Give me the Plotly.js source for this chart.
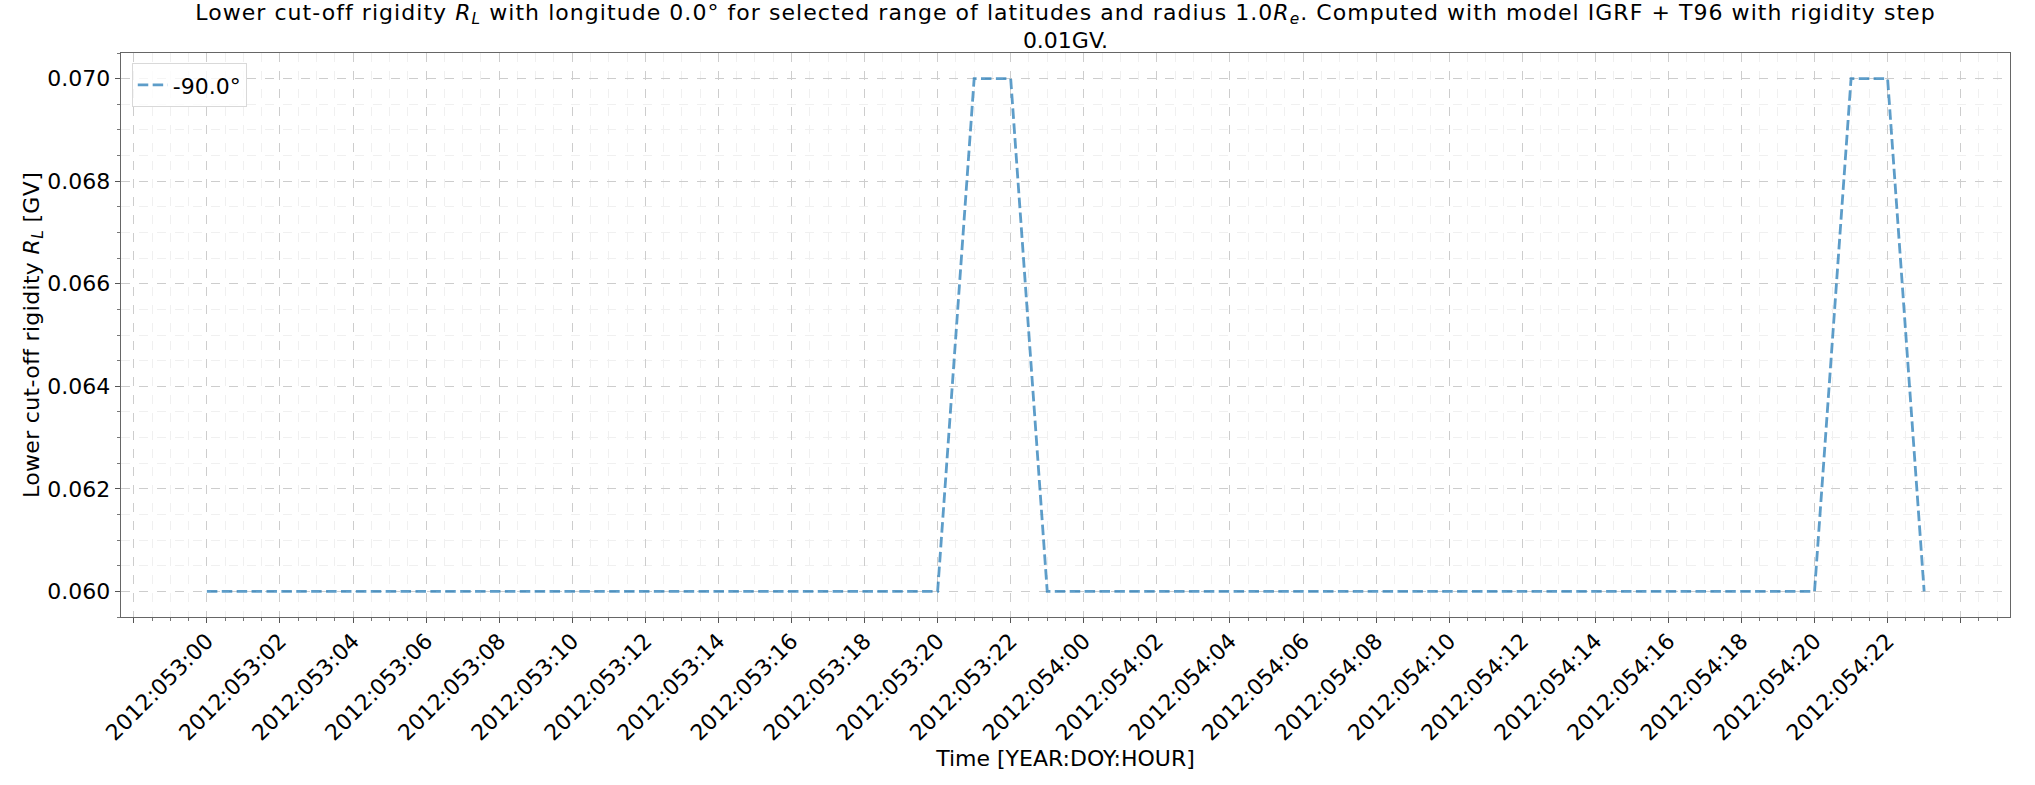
<!DOCTYPE html>
<html>
<head>
<meta charset="utf-8">
<script src="https://cdn.plot.ly/plotly-3.0.1.min.js"></script>
<style>html,body{margin:0;padding:0;background:#fff;}#chart{width:2035px;height:785px;}</style>
</head>
<body>
<div id="chart"></div>
<script>
// Time stamps (YEAR:DOY:HOUR)
const times = [
  '2012:053:00','2012:053:01','2012:053:02','2012:053:03','2012:053:04','2012:053:05',
  '2012:053:06','2012:053:07','2012:053:08','2012:053:09','2012:053:10','2012:053:11',
  '2012:053:12','2012:053:13','2012:053:14','2012:053:15','2012:053:16','2012:053:17',
  '2012:053:18','2012:053:19','2012:053:20','2012:053:21','2012:053:22','2012:053:23',
  '2012:054:00','2012:054:01','2012:054:02','2012:054:03','2012:054:04','2012:054:05',
  '2012:054:06','2012:054:07','2012:054:08','2012:054:09','2012:054:10','2012:054:11',
  '2012:054:12','2012:054:13','2012:054:14','2012:054:15','2012:054:16','2012:054:17',
  '2012:054:18','2012:054:19','2012:054:20','2012:054:21','2012:054:22','2012:054:23'
];
// Lower cut-off rigidity at latitude -90.0 deg [GV]
const rigidityLat_m90 = [
  0.06,0.06,0.06,0.06,0.06,0.06,0.06,0.06,0.06,0.06,0.06,0.06,
  0.06,0.06,0.06,0.06,0.06,0.06,0.06,0.06,0.06,0.07,0.07,0.06,
  0.06,0.06,0.06,0.06,0.06,0.06,0.06,0.06,0.06,0.06,0.06,0.06,
  0.06,0.06,0.06,0.06,0.06,0.06,0.06,0.06,0.06,0.07,0.07,0.06
];
const seriesName = '-90.0°';
// Tick positions and labels (ticks at 052:22 and 055:00 carry no label)
const tickTimes = [
  '2012:052:22','2012:053:00','2012:053:02','2012:053:04','2012:053:06','2012:053:08',
  '2012:053:10','2012:053:12','2012:053:14','2012:053:16','2012:053:18','2012:053:20',
  '2012:053:22','2012:054:00','2012:054:02','2012:054:04','2012:054:06','2012:054:08',
  '2012:054:10','2012:054:12','2012:054:14','2012:054:16','2012:054:18','2012:054:20',
  '2012:054:22','2012:055:00'
];
const tickLabels = [
  '','2012:053:00','2012:053:02','2012:053:04','2012:053:06','2012:053:08',
  '2012:053:10','2012:053:12','2012:053:14','2012:053:16','2012:053:18','2012:053:20',
  '2012:053:22','2012:054:00','2012:054:02','2012:054:04','2012:054:06','2012:054:08',
  '2012:054:10','2012:054:12','2012:054:14','2012:054:16','2012:054:18','2012:054:20',
  '2012:054:22',''
];

function toMs(s) {
  const p = s.split(':').map(Number);
  return Date.UTC(p[0], 0, 1) + (p[1] - 1) * 86400000 + p[2] * 3600000;
}
function toDateStr(ms) {
  const d = new Date(ms);
  const z = n => String(n).padStart(2, '0');
  return d.getUTCFullYear() + '-' + z(d.getUTCMonth() + 1) + '-' + z(d.getUTCDate()) +
         ' ' + z(d.getUTCHours()) + ':' + z(d.getUTCMinutes()) + ':' + z(d.getUTCSeconds());
}

const xs = times.map(t => toDateStr(toMs(t)));
const t0 = toMs(times[0]), t1 = toMs(times[times.length - 1]);
const pad = (t1 - t0) * 0.05;

const FONT = 'DejaVu Sans, Liberation Sans, sans-serif';

const trace = {
  x: xs, y: rigidityLat_m90, type: 'scatter', mode: 'lines', name: seriesName,
  line: {color: 'rgba(31,119,180,0.72)', width: 2.8, dash: '10.5px,4.4px'}
};

const layout = {
  width: 2035, height: 785,
  paper_bgcolor: '#ffffff', plot_bgcolor: '#ffffff',
  margin: {l: 121, r: 25, t: 53, b: 168, pad: 0},
  font: {family: FONT, color: '#000', size: 22},
  title: {
    text: '<span style="letter-spacing:1.05px">Lower cut-off rigidity <i>R</i><sub><i>L</i></sub> with longitude 0.0° for selected range of latitudes and radius 1.0<i>R</i><sub><i>e</i></sub>. Computed with model IGRF + T96 with rigidity step</span><br>0.01GV.',
    font: {family: FONT, size: 22, color: '#000'},
    xref: 'paper', x: 0.5, xanchor: 'center',
    yref: 'container', y: 0.975, yanchor: 'top', pad: {t: 0}
  },
  showlegend: true,
  legend: {
    x: 0.0057, y: 0.982, xanchor: 'left', yanchor: 'top',
    bgcolor: 'rgba(255,255,255,0.8)', bordercolor: '#d9d9d9', borderwidth: 1,
    entrywidth: 125, entrywidthmode: 'pixels',
    font: {family: FONT, size: 22, color: '#000'}
  },
  xaxis: {
    type: 'date',
    range: [toDateStr(t0 - pad), toDateStr(t1 + pad)],
    tickmode: 'array',
    tickvals: tickTimes.map(t => toDateStr(toMs(t))),
    ticktext: tickLabels,
    tickangle: -45,
    ticklabelstandoff: -4,
    tickfont: {family: FONT, size: 22, color: '#000'},
    ticks: 'outside', ticklen: 5, tickwidth: 1, tickcolor: '#555',
    showline: true, linecolor: '#666', linewidth: 1.3, mirror: true,
    showgrid: true, gridcolor: '#cdcdcd', gridwidth: 1, griddash: 'dash',
    zeroline: false,
    minor: {dtick: 1800000, tick0: toDateStr(t0), ticks: 'outside', ticklen: 3, tickcolor: '#777',
            showgrid: true, gridcolor: '#f0f0f0', gridwidth: 1, griddash: 'dash'},
    title: {text: 'Time [YEAR:DOY:HOUR]', font: {family: FONT, size: 22, color: '#000'}, standoff: 0}
  },
  yaxis: {
    range: [0.0595, 0.0705],
    tickmode: 'linear', tick0: 0.06, dtick: 0.002, tickformat: '.3f',
    tickfont: {family: FONT, size: 22, color: '#000'},
    ticks: 'outside', ticklen: 5, tickwidth: 1, tickcolor: '#555',
    showline: true, linecolor: '#666', linewidth: 1.3, mirror: true,
    showgrid: true, gridcolor: '#cdcdcd', gridwidth: 1, griddash: 'dash',
    zeroline: false,
    minor: {dtick: 0.0005, tick0: 0.06, ticks: 'outside', ticklen: 3, tickcolor: '#777',
            showgrid: true, gridcolor: '#f0f0f0', gridwidth: 1, griddash: 'dash'},
    title: {text: '<span style="letter-spacing:0.34px">Lower cut-off rigidity <i>R</i><sub><i>L</i></sub> [GV]</span>', font: {family: FONT, size: 22, color: '#000'}, standoff: 0}
  }
};

Plotly.newPlot('chart', [trace], layout, {displayModeBar: false, staticPlot: true});
</script>
</body>
</html>
